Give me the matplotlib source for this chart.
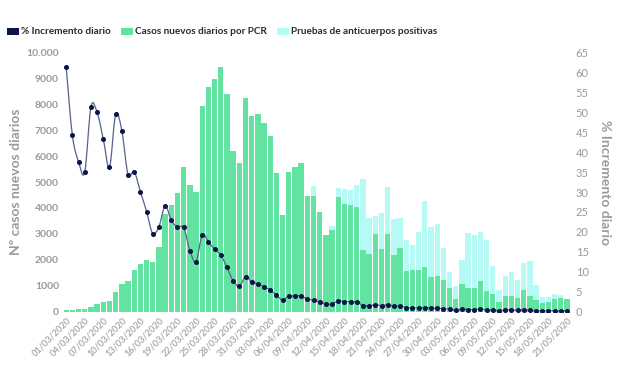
import numpy as np
import pandas as pd
import matplotlib
matplotlib.use('Agg')
import matplotlib.pyplot as plt
import matplotlib.transforms as mtransforms
from matplotlib.path import Path
from matplotlib.patches import PathPatch, Rectangle

fechas = pd.date_range('2020-03-01', '2020-05-21', freq='D')

# Casos nuevos diarios por PCR
casos_pcr = [60, 70, 90, 110, 190, 290, 355, 420, 765, 1060,
             1170, 1610, 1830, 2000, 1930, 2490, 3760, 4120, 4590, 5600,
             4890, 4610, 7940, 8660, 8980, 9440, 8390, 6200, 5730, 8240,
             7560, 7620, 7270, 6780, 5340, 3730, 5380, 5600, 5730, 4480,
             4470, 3830, 2950, 3130, 4420, 4140, 4130, 4050, 2380, 2210,
             3000, 2400, 3000, 2200, 2460, 1580, 1600, 1600, 1710, 1330,
             1380, 1225, 900, 480, 1060, 890, 900, 1185, 810, 685,
             350, 605, 605, 515, 840, 605, 450, 325, 375, 500,
             540, 480]

# Pruebas de anticuerpos positivas (apiladas sobre PCR)
anticuerpos = [0] * 40 + [360, 0, 0, 170, 340, 590, 570, 850, 2750, 1390,
                          690, 1410, 1810, 1390, 1160, 1190, 980, 1470, 2570, 1920,
                          1990, 1245, 645, 510, 940, 2140, 2060, 1880, 1960, 1055,
                          490, 775, 915, 710, 1030, 1355, 570, 230, 180, 185,
                          80, 0]

# % incremento diario
incremento = [61.3, 44.2, 37.6, 35.0, 51.4, 50.0, 43.3, 36.2, 49.5, 45.4,
              34.4, 35.1, 30.1, 25.1, 19.5, 21.3, 26.5, 22.9, 21.1, 21.1,
              15.3, 12.5, 19.3, 17.5, 15.6, 14.2, 11.1, 7.7, 6.4, 8.7,
              7.5, 6.9, 6.2, 5.4, 4.1, 2.9, 3.9, 3.9, 3.9, 3.1,
              2.9, 2.4, 1.9, 1.9, 2.7, 2.5, 2.5, 2.4, 1.5, 1.4,
              1.7, 1.5, 1.7, 1.3, 1.4, 1.0, 0.9, 0.9, 1.0, 0.8,
              0.8, 0.7, 0.6, 0.3, 0.6, 0.5, 0.5, 0.6, 0.4, 0.4,
              0.2, 0.4, 0.4, 0.3, 0.4, 0.3, 0.2, 0.2, 0.2, 0.2,
              0.2, 0.2]

etiquetas = [f.strftime('%d/%m/%Y') for f in fechas]

VERDE = '#62E3A2'
CIAN = '#B6FAF6'
NAVY = '#0B1546'
GRIS = '#9A9A9A'
FUENTE = 'Lato'


def spline_path(x, y):
    # curva suave tipo Catmull-Rom que pasa por los puntos
    P = np.column_stack([x, y]).astype(float)
    n = len(P)
    verts = [P[0]]
    codes = [Path.MOVETO]
    for i in range(n - 1):
        p0 = P[i - 1] if i > 0 else P[i]
        p1, p2 = P[i], P[i + 1]
        p3 = P[i + 2] if i + 2 < n else P[i + 1]
        c1 = p1 + (p2 - p0) / 6
        c2 = p2 - (p3 - p1) / 6
        verts += [c1, c2, p2]
        codes += [Path.CURVE4] * 3
    return Path(verts, codes)


fig = plt.figure(figsize=(6.2, 3.68), dpi=100)
ax = fig.add_axes([0.1018, 0.1535, 0.8177, 0.7035])
x = np.arange(len(fechas))

ax.bar(x, casos_pcr, width=0.86, color=VERDE, zorder=2)
ax.bar(x, anticuerpos, bottom=casos_pcr, width=0.86, color=CIAN, zorder=2)
ax.set_xlim(-0.5, len(fechas) - 0.5)
ax.set_ylim(0, 10000)
ax.set_yticks(np.arange(0, 10001, 1000))
ax.set_yticklabels(['0'] + [str(v) for v in range(1000, 10000, 1000)] + ['10.000'],
                   fontsize=7.5, fontweight='bold', color=GRIS, family=FUENTE)
ax.set_xticks(x[::3])
ax.set_xticklabels(etiquetas[::3], rotation=45, ha='right', rotation_mode='anchor',
                   fontsize=6.6, fontweight='bold', color='#ABABAB', family=FUENTE)
desplaza = mtransforms.ScaledTranslation(4 / 100, 0, fig.dpi_scale_trans)
for lab in ax.get_xticklabels():
    lab.set_transform(lab.get_transform() + desplaza)
ax.tick_params(length=0, pad=3)
ax.set_ylabel('Nº casos nuevos diarios', fontsize=10, fontweight='bold',
              color=GRIS, family=FUENTE, labelpad=3)
for s in ax.spines.values():
    s.set_visible(False)

ax2 = ax.twinx()
ax2.set_ylim(0, 65)
ax2.add_patch(PathPatch(spline_path(x, incremento), facecolor='none',
                        edgecolor='#56608E', linewidth=0.9, zorder=3))
ax2.plot(x, incremento, linestyle='none', marker='o', markersize=2.6,
         color=NAVY, zorder=4)
ax2.set_yticks(np.arange(0, 66, 5))
ax2.set_yticklabels([str(v) for v in range(0, 66, 5)], fontsize=8,
                    color=GRIS, family=FUENTE)
ax2.tick_params(length=0, pad=4)
ax2.set_ylabel('% Incremento diario', fontsize=10, fontweight='bold',
               color=GRIS, family=FUENTE, rotation=270, labelpad=16)
for s in ax2.spines.values():
    s.set_visible(False)

# leyenda superior, elementos colocados uno tras otro
leyenda = [('% Incremento diario', NAVY),
           ('Casos nuevos diarios por PCR', VERDE),
           ('Pruebas de anticuerpos positivas', CIAN)]
W, H = 620, 368
renderer = fig.canvas.get_renderer()
px = 7
for texto, color in leyenda:
    fig.patches.append(Rectangle((px / W, (H - 35) / H), 12 / W, 7 / H,
                                 transform=fig.transFigure, facecolor=color,
                                 edgecolor='none'))
    t = fig.text((px + 14) / W, (H - 31.5) / H, texto, fontsize=7.2, fontweight='bold',
                 color='#2A2A2A', family=FUENTE, va='center', ha='left')
    px = t.get_window_extent(renderer).x1 + 10

fig.savefig('out.png', dpi=100)
